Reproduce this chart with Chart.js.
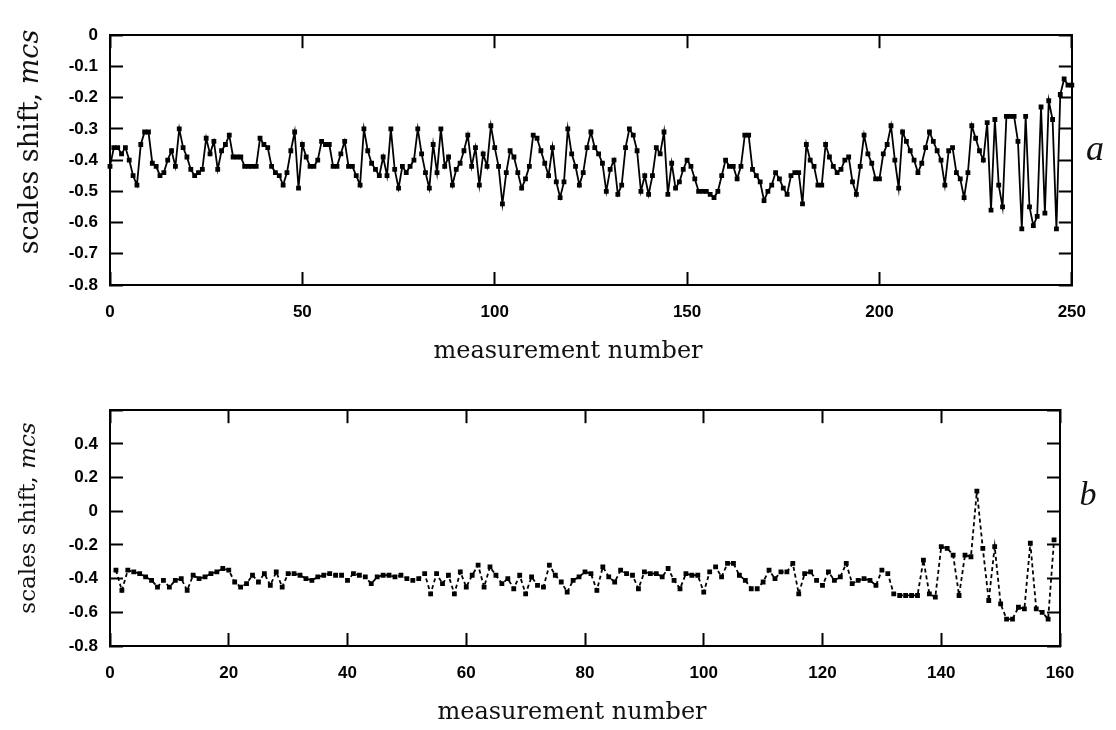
<!DOCTYPE html>
<html>
<head>
<meta charset="utf-8">
<script src="https://cdn.jsdelivr.net/npm/chart.js@4.4.0/dist/chart.umd.min.js"></script>
<style>
  html, body { margin: 0; padding: 0; background: #fff; }
  #page { position: relative; width: 1116px; height: 730px; overflow: hidden; }
  canvas { position: absolute; left: 0; }
  .title { position: absolute; font-family: 'DejaVu Serif', serif; color: #111; white-space: nowrap; line-height: 1; }
  .xt { transform: translate(-50%, -50%); font-size: 24px; }
  .yt { transform: translate(-50%, -50%) rotate(-90deg); }
  .tag { position: absolute; font-family: 'Liberation Serif', serif; font-style: italic; color: #111; line-height: 1; transform: translate(-50%, -50%); }
</style>
</head>
<body>
<div id="page">
  <canvas id="chartA" width="1116" height="375" style="top:0"></canvas>
  <canvas id="chartB" width="1116" height="355" style="top:375px"></canvas>
  <div class="title yt" style="left:28px; top:142px; font-size:27px">scales shift, <i>mcs</i></div>
  <div class="title xt" style="left:568px; top:350px">measurement number</div>
  <div class="title yt" style="left:27px; top:518px; font-size:23px">scales shift, <i>mcs</i></div>
  <div class="title xt" style="left:572px; top:711px">measurement number</div>
  <div class="tag" style="left:1095px; top:148px; font-size:36px">a</div>
  <div class="tag" style="left:1088px; top:494px; font-size:34px">b</div>
</div>
<script>
// panel a: measurements 0..250
const topStart = 0;
const topShift = [
  -0.42, -0.36, -0.36, -0.38, -0.36, -0.40, -0.45, -0.48, -0.35, -0.31,
  -0.31, -0.41, -0.42, -0.45, -0.44, -0.40, -0.37, -0.42, -0.30, -0.36,
  -0.39, -0.43, -0.45, -0.44, -0.43, -0.33, -0.38, -0.34, -0.43, -0.37,
  -0.35, -0.32, -0.39, -0.39, -0.39, -0.42, -0.42, -0.42, -0.42, -0.33,
  -0.35, -0.36, -0.42, -0.44, -0.45, -0.48, -0.44, -0.37, -0.31, -0.49,
  -0.35, -0.39, -0.42, -0.42, -0.40, -0.34, -0.35, -0.35, -0.42, -0.42,
  -0.38, -0.34, -0.42, -0.42, -0.45, -0.48, -0.30, -0.37, -0.41, -0.43,
  -0.45, -0.39, -0.45, -0.30, -0.43, -0.49, -0.42, -0.44, -0.42, -0.40,
  -0.30, -0.38, -0.44, -0.49, -0.35, -0.44, -0.30, -0.42, -0.39, -0.48,
  -0.43, -0.41, -0.37, -0.32, -0.42, -0.36, -0.48, -0.38, -0.42, -0.29,
  -0.36, -0.42, -0.54, -0.44, -0.37, -0.39, -0.44, -0.49, -0.46, -0.42,
  -0.32, -0.33, -0.37, -0.41, -0.45, -0.36, -0.47, -0.52, -0.47, -0.30,
  -0.38, -0.42, -0.48, -0.44, -0.36, -0.31, -0.36, -0.38, -0.41, -0.50,
  -0.43, -0.40, -0.51, -0.48, -0.36, -0.30, -0.32, -0.37, -0.50, -0.45,
  -0.51, -0.45, -0.36, -0.38, -0.31, -0.51, -0.41, -0.49, -0.47, -0.43,
  -0.40, -0.42, -0.46, -0.50, -0.50, -0.50, -0.51, -0.52, -0.50, -0.45,
  -0.40, -0.42, -0.42, -0.46, -0.42, -0.32, -0.32, -0.43, -0.45, -0.47,
  -0.53, -0.50, -0.48, -0.44, -0.46, -0.49, -0.51, -0.45, -0.44, -0.44,
  -0.54, -0.35, -0.40, -0.42, -0.48, -0.48, -0.35, -0.39, -0.42, -0.44,
  -0.43, -0.40, -0.39, -0.47, -0.51, -0.42, -0.32, -0.38, -0.41, -0.46,
  -0.46, -0.38, -0.35, -0.29, -0.40, -0.49, -0.31, -0.34, -0.37, -0.40,
  -0.44, -0.41, -0.36, -0.31, -0.34, -0.37, -0.40, -0.48, -0.37, -0.36,
  -0.44, -0.46, -0.52, -0.44, -0.29, -0.33, -0.37, -0.40, -0.28, -0.56,
  -0.27, -0.48, -0.55, -0.26, -0.26, -0.26, -0.34, -0.62, -0.26, -0.55,
  -0.61, -0.58, -0.23, -0.57, -0.21, -0.27, -0.62, -0.19, -0.14, -0.16,
  -0.16
];

// panel b: measurements 1..159
const bottomStart = 1;
const bottomShift = [
  -0.35, -0.47, -0.35, -0.36, -0.37, -0.39, -0.41, -0.45, -0.41, -0.45,
  -0.41, -0.40, -0.47, -0.38, -0.40, -0.39, -0.37, -0.36, -0.34, -0.35,
  -0.42, -0.45, -0.43, -0.38, -0.42, -0.37, -0.44, -0.36, -0.45, -0.37,
  -0.37, -0.38, -0.40, -0.41, -0.39, -0.38, -0.37, -0.38, -0.38, -0.41,
  -0.37, -0.38, -0.39, -0.43, -0.39, -0.38, -0.38, -0.39, -0.38, -0.40,
  -0.41, -0.40, -0.37, -0.49, -0.37, -0.43, -0.38, -0.49, -0.36, -0.45,
  -0.38, -0.32, -0.45, -0.33, -0.38, -0.43, -0.40, -0.46, -0.38, -0.49,
  -0.39, -0.44, -0.45, -0.32, -0.38, -0.42, -0.48, -0.41, -0.39, -0.36,
  -0.37, -0.47, -0.33, -0.39, -0.42, -0.35, -0.37, -0.38, -0.46, -0.36,
  -0.37, -0.37, -0.39, -0.34, -0.41, -0.46, -0.37, -0.38, -0.38, -0.48,
  -0.36, -0.33, -0.39, -0.31, -0.31, -0.38, -0.41, -0.46, -0.46, -0.42,
  -0.35, -0.40, -0.36, -0.36, -0.31, -0.49, -0.37, -0.36, -0.41, -0.44,
  -0.36, -0.41, -0.39, -0.31, -0.43, -0.41, -0.40, -0.41, -0.44, -0.35,
  -0.37, -0.49, -0.50, -0.50, -0.50, -0.50, -0.29, -0.49, -0.51, -0.21,
  -0.22, -0.26, -0.50, -0.26, -0.27, 0.12, -0.22, -0.53, -0.21, -0.55,
  -0.64, -0.64, -0.57, -0.58, -0.19, -0.58, -0.60, -0.64, -0.17
];

const topX = [0, 250], topXStep = 50;
const topY = [-0.8, 0], topYStep = 0.1;
const bottomX = [0, 160], bottomXStep = 20;
const bottomY = [-0.8, 0.6], bottomYStep = 0.2;

const tickFont = { family: "'Liberation Sans', Arial, sans-serif", size: 17, weight: 'bold' };

function toPoints(values, start) {
  return values.map((v, i) => ({ x: start + i, y: v }));
}

// axis with inward tick marks; size forces the box width/height
function axis(pos, range, step, size, labels, pad, fmt) {
  return {
    type: 'linear',
    position: pos,
    min: range[0],
    max: range[1],
    afterFit: function (s) {
      if (s.isHorizontal()) s.height = size; else s.width = size;
    },
    border: { display: true, color: '#000', width: 2 },
    grid: { drawOnChartArea: false, drawTicks: true, tickLength: -13, tickWidth: 2, tickColor: '#000' },
    ticks: {
      display: labels,
      stepSize: step,
      padding: pad,
      color: '#000',
      font: tickFont,
      maxRotation: 0,
      autoSkip: false,
      callback: fmt || function (v) { return Math.round(v * 10) / 10; }
    }
  };
}

function panel(id, values, start, xr, xs, yr, ys, dash, pad, xh, yfmt) {
  const ctx = document.getElementById(id).getContext('2d');
  return new Chart(ctx, {
    type: 'line',
    data: {
      datasets: [{
        data: toPoints(values, start),
        xAxisID: 'x',
        yAxisID: 'y',
        borderColor: '#000',
        backgroundColor: '#000',
        borderWidth: 1.8,
        borderDash: dash,
        tension: 0,
        pointStyle: 'rect',
        pointRadius: 3.4,
        pointBorderWidth: 0,
        clip: 6
      }]
    },
    options: {
      responsive: false,
      animation: false,
      events: [],
      layout: { padding: pad },
      plugins: { legend: { display: false }, tooltip: { enabled: false } },
      scales: {
        x: axis('bottom', xr, xs, xh, true, 30, function (v) { return v; }),
        x2: axis('top', xr, xs, 0, false, 0),
        y: axis('left', yr, ys, 110, true, 25, yfmt),
        y2: axis('right', yr, ys, 0, false, 0)
      }
    }
  });
}

panel('chartA', topShift, topStart, topX, topXStep, topY, topYStep, [],
  { top: 15, right: 43, left: 0, bottom: 0 }, 90);

panel('chartB', bottomShift, bottomStart, bottomX, bottomXStep, bottomY, bottomYStep, [4, 3],
  { top: 20, right: 56, left: 0, bottom: 0 }, 84,
  function (v) { return v > 0.5 ? '' : Math.round(v * 10) / 10; });
</script>
</body>
</html>
